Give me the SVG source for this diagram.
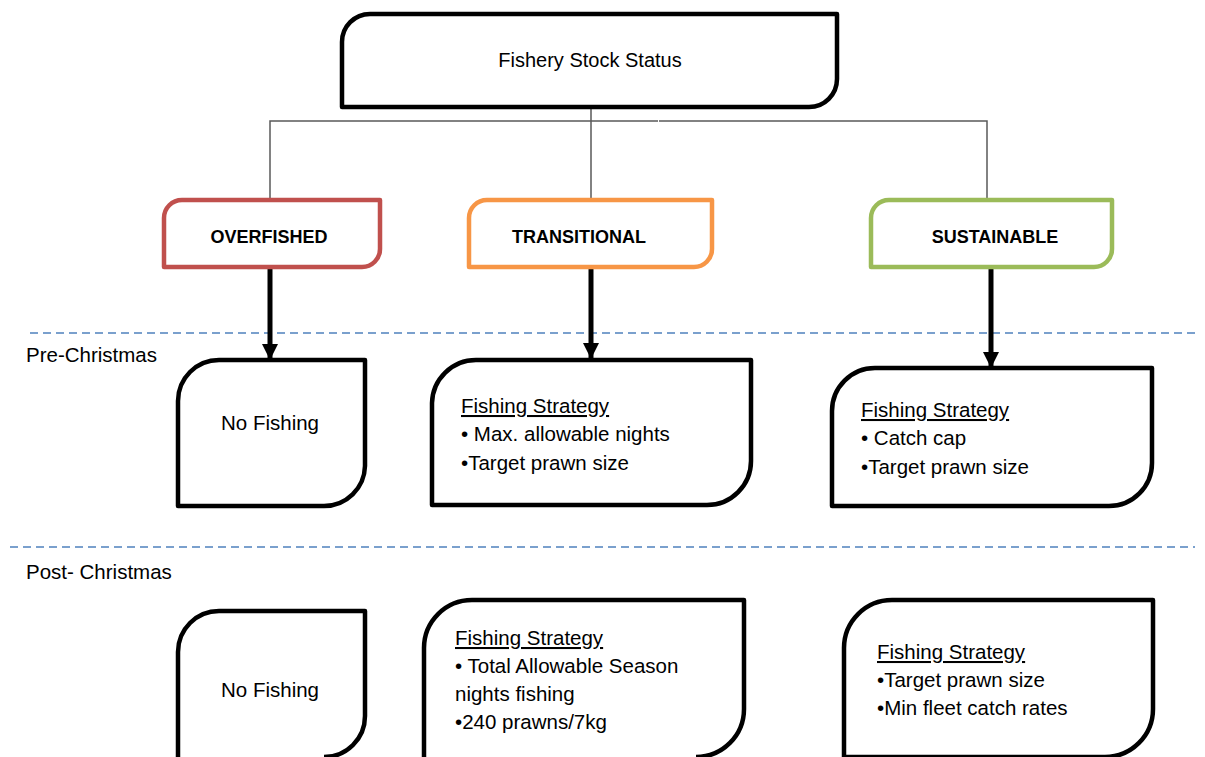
<svg xmlns="http://www.w3.org/2000/svg" width="1205" height="757" viewBox="0 0 1205 757">
<defs>
<style>
text{font-family:"Liberation Sans",Arial,sans-serif;fill:#000}
.box{fill:#fff;stroke:#000;stroke-width:4.5;stroke-linejoin:round}
.st{fill:#fff;stroke-width:4.5;stroke-linejoin:round}
.lbl{font-size:18px;font-weight:bold;text-anchor:middle}
.body{font-size:20.5px}
.tree{fill:none;stroke:#595959;stroke-width:1.5}
.arr{fill:none;stroke:#000;stroke-width:5}
.dash{stroke:#4F81BD;stroke-width:1.5;stroke-dasharray:8 5}
</style>
<marker id="ah" markerWidth="16" markerHeight="16" refX="15" refY="8" orient="auto" markerUnits="userSpaceOnUse" viewBox="0 0 16 16">
<path d="M0,0 L16,8 L0,16 Z" fill="#000"/>
</marker>
</defs>
<rect width="1205" height="757" fill="#fff"/>

<g id="separators">
<line class="dash" x1="30" y1="333" x2="1200" y2="333"/>
<line class="dash" x1="10" y1="547" x2="1195" y2="547"/>
<text class="body" x="26" y="362">Pre-Christmas</text>
<text class="body" x="26" y="579">Post- Christmas</text>
</g>

<g id="connectors">
<path class="tree" d="M591,107 V200"/>
<path class="tree" d="M270,200 V121 H658"/>
<path class="tree" d="M659,121 H987 V200"/>
<line class="arr" x1="270" y1="268" x2="270" y2="359" marker-end="url(#ah)"/>
<line class="arr" x1="591" y1="268" x2="591" y2="358" marker-end="url(#ah)"/>
<line class="arr" x1="991" y1="268" x2="991" y2="367" marker-end="url(#ah)"/>
</g>

<g id="root">
<path class="box" d="M342,107 V42 A28,28 0 0 1 370,14 H837 V79 A28,28 0 0 1 809,107 Z"/>
<text x="590" y="67" font-size="20" text-anchor="middle">Fishery Stock Status</text>
</g>

<g id="overfished">
<path class="st" stroke="#C0504D" d="M164,267 V218 A18,18 0 0 1 182,200 H380 V249 A18,18 0 0 1 362,267 Z"/>
<text class="lbl" x="269" y="243">OVERFISHED</text>
</g>
<g id="transitional">
<path class="st" stroke="#F79646" d="M469,267 V218 A18,18 0 0 1 487,200 H712 V249 A18,18 0 0 1 694,267 Z"/>
<text class="lbl" x="579" y="243">TRANSITIONAL</text>
</g>
<g id="sustainable">
<path class="st" stroke="#9BBB59" d="M871,267 V218 A18,18 0 0 1 889,200 H1112 V249 A18,18 0 0 1 1094,267 Z"/>
<text class="lbl" x="995" y="243">SUSTAINABLE</text>
</g>

<g id="pre-overfished">
<path class="box" d="M178,506 V401 A41,41 0 0 1 219,360 H365 V466 A41,41 0 0 1 324,506 Z"/>
<text class="body" x="270" y="430" text-anchor="middle">No Fishing</text>
</g>
<g id="pre-transitional">
<path class="box" d="M432,505 V403 A44,44 0 0 1 476,360 H751 V461 A44,44 0 0 1 707,505 Z"/>
<text class="body" x="461" y="413" text-decoration="underline">Fishing Strategy</text>
<text class="body" x="461" y="441">• Max. allowable nights</text>
<text class="body" x="461" y="470">•Target prawn size</text>
</g>
<g id="pre-sustainable">
<path class="box" d="M832,506 V411 A43,43 0 0 1 875,368 H1152 V463 A43,43 0 0 1 1109,506 Z"/>
<text class="body" x="861" y="417" text-decoration="underline">Fishing Strategy</text>
<text class="body" x="861" y="445">• Catch  cap</text>
<text class="body" x="861" y="474">•Target prawn size</text>
</g>

<g id="post-overfished">
<path class="box" d="M178,770 V652 A41,41 0 0 1 219,611 H365 V716 A41,41 0 0 1 324,757"/>
<text class="body" x="270" y="697" text-anchor="middle">No Fishing</text>
</g>
<g id="post-transitional">
<path class="box" d="M424,770 V648 A48,48 0 0 1 472,600 H744 V709 A48,48 0 0 1 696,757"/>
<text class="body" x="455" y="645" text-decoration="underline">Fishing Strategy</text>
<text class="body" x="455" y="673">• Total Allowable Season</text>
<text class="body" x="455" y="701">nights fishing</text>
<text class="body" x="455" y="729">•240 prawns/7kg</text>
</g>
<g id="post-sustainable">
<path class="box" d="M844,770 V648 A48,48 0 0 1 892,600 H1153 V709 A48,48 0 0 1 1105,757 H844"/>
<text class="body" x="877" y="659" text-decoration="underline">Fishing Strategy</text>
<text class="body" x="877" y="687">•Target prawn size</text>
<text class="body" x="877" y="715">•Min fleet catch rates</text>
</g>
</svg>
